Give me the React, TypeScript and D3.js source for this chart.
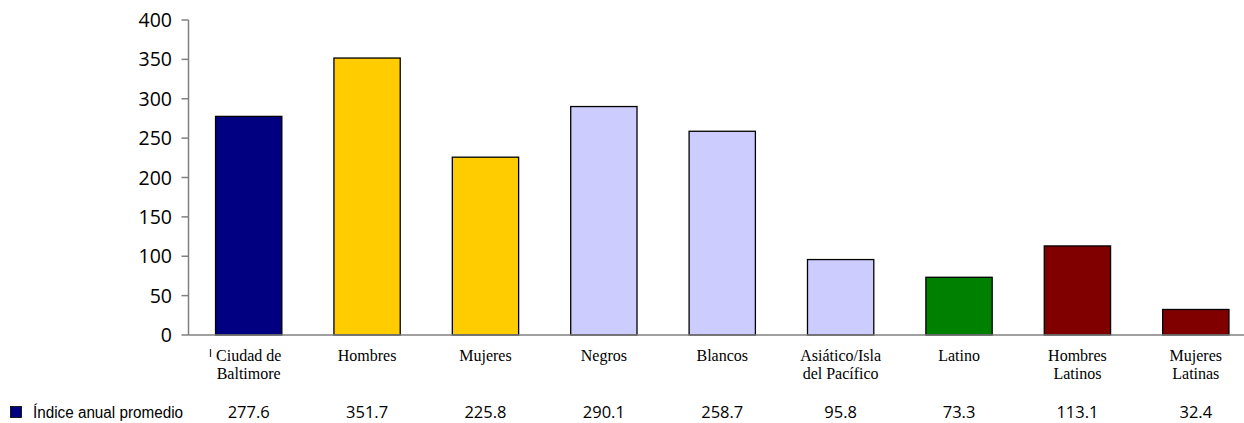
import * as d3 from "d3";
import { useEffect, useRef } from "react";

const categories = [
  "Ciudad de\nBaltimore",
  "Hombres",
  "Mujeres",
  "Negros",
  "Blancos",
  "Asiático/Isla\ndel Pacífico",
  "Latino",
  "Hombres\nLatinos",
  "Mujeres\nLatinas",
];
const values = [277.6, 351.7, 225.8, 290.1, 258.7, 95.8, 73.3, 113.1, 32.4];
const barColors = [
  "#000080",
  "#FFCC00",
  "#FFCC00",
  "#CCCCFF",
  "#CCCCFF",
  "#CCCCFF",
  "#008000",
  "#800000",
  "#800000",
];
const yTicks = [0, 50, 100, 150, 200, 250, 300, 350, 400];
const seriesName = "Índice anual promedio";

function App() {
  const ref = useRef<SVGSVGElement>(null);

  useEffect(() => {
    const width = 1244;
    const height = 423;
    const svg = d3.select(ref.current).attr("width", width).attr("height", height);
    svg.selectAll("*").remove();

    const x = d3
      .scaleBand<number>()
      .domain(d3.range(categories.length))
      .range([189.5, 1255])
      .paddingInner(0.44)
      .paddingOuter(0.22);
    const y = d3.scaleLinear().domain([0, 400]).range([335, 20]);
    const axisX = 188.5;

    // bars
    svg
      .append("g")
      .selectAll("rect")
      .data(values)
      .join("rect")
      .attr("x", (_, i) => x(i)!)
      .attr("y", (d) => y(d))
      .attr("width", x.bandwidth())
      .attr("height", (d) => y(0) - y(d))
      .attr("fill", (_, i) => barColors[i])
      .attr("stroke", "#000")
      .attr("stroke-width", 1.3);

    // y axis
    const ya = svg.append("g").attr("stroke", "#808080").attr("stroke-width", 1.5);
    ya.append("line").attr("x1", axisX).attr("x2", axisX).attr("y1", y(400)).attr("y2", y(0));
    ya.selectAll("line.t")
      .data(yTicks)
      .join("line")
      .attr("class", "t")
      .attr("x1", axisX - 7)
      .attr("x2", axisX)
      .attr("y1", (d) => y(d))
      .attr("y2", (d) => y(d));
    // x axis line
    svg
      .append("line")
      .attr("x1", axisX)
      .attr("x2", width)
      .attr("y1", y(0))
      .attr("y2", y(0))
      .attr("stroke", "#808080")
      .attr("stroke-width", 1.5);

    svg
      .append("g")
      .selectAll("text")
      .data(yTicks)
      .join("text")
      .attr("x", 172)
      .attr("y", (d) => y(d))
      .attr("dy", "0.36em")
      .attr("text-anchor", "end")
      .style("font", "19.5px 'Open Sans', sans-serif")
      .attr("fill", "#000")
      .text((d) => d);

    // category labels
    const cl = svg
      .append("g")
      .selectAll("text")
      .data(categories)
      .join("text")
      .attr("text-anchor", "middle")
      .style("font", "16px 'Liberation Serif', 'Times New Roman', serif")
      .attr("fill", "#000")
      .attr("y", 361);
    cl.selectAll("tspan")
      .data((d, i) => d.split("\n").map((s) => ({ s, i })))
      .join("tspan")
      .attr("x", (d) => x(d.i)! + x.bandwidth() / 2)
      .attr("dy", (_, j) => (j === 0 ? 0 : 18))
      .text((d) => d.s);

    // small stray mark
    svg
      .append("line")
      .attr("x1", 210.5)
      .attr("x2", 210.5)
      .attr("y1", 349)
      .attr("y2", 357)
      .attr("stroke", "#333")
      .attr("stroke-width", 1.3);

    // legend / data table row
    svg
      .append("rect")
      .attr("x", 10.5)
      .attr("y", 406.5)
      .attr("width", 11)
      .attr("height", 11)
      .attr("fill", barColors[0])
      .attr("stroke", "#000")
      .attr("stroke-width", 0.8);
    svg
      .append("text")
      .attr("x", 33)
      .attr("y", 418)
      .attr("textLength", 150)
      .attr("lengthAdjust", "spacingAndGlyphs")
      .style("font", "16px 'Liberation Sans Narrow', 'Arial Narrow', sans-serif")
      .attr("fill", "#000")
      .text(seriesName);

    svg
      .append("g")
      .selectAll("text")
      .data(values)
      .join("text")
      .attr("x", (_, i) => x(i)! + x.bandwidth() / 2)
      .attr("y", 418)
      .attr("text-anchor", "middle")
      .style("font", "16.5px 'Open Sans', sans-serif")
      .attr("fill", "#000")
      .text((d) => d.toFixed(1));

    return () => {
      svg.selectAll("*").remove();
    };
  }, []);

  return (
    <div style={{ position: "absolute", left: 0, top: 0 }}>
      <svg ref={ref} style={{ display: "block" }}></svg>
    </div>
  );
}

export default App;
